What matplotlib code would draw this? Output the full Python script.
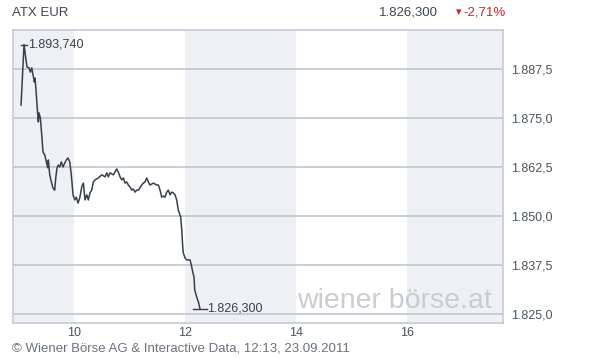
import matplotlib.pyplot as plt
from matplotlib.ticker import FuncFormatter

plt.rcParams['font.family'] = ['Liberation Sans', 'DejaVu Sans']

# Uhrzeit (Stunden, dezimal) und ATX-Stand
zeit = [9.045, 9.099, 9.130, 9.153, 9.189, 9.213, 9.238, 9.261, 9.285, 9.297,
        9.321, 9.346, 9.357, 9.369, 9.393, 9.418, 9.441, 9.472, 9.501, 9.526,
        9.537, 9.562, 9.591, 9.622, 9.652, 9.670, 9.694, 9.717, 9.742, 9.771,
        9.802, 9.832, 9.861, 9.892, 9.923, 9.951, 9.982, 10.013, 10.041, 10.072,
        10.103, 10.139, 10.168, 10.198, 10.229, 10.258, 10.288, 10.319, 10.348, 10.378,
        10.438, 10.499, 10.559, 10.589, 10.618, 10.649, 10.708, 10.769, 10.798, 10.829,
        10.859, 10.888, 10.919, 10.950, 10.978, 11.009, 11.040, 11.068, 11.099, 11.130,
        11.159, 11.220, 11.249, 11.279, 11.310, 11.339, 11.369, 11.429, 11.490, 11.519,
        11.550, 11.580, 11.609, 11.640, 11.670, 11.699, 11.730, 11.760, 11.789, 11.820,
        11.850, 11.879, 11.923, 11.941, 11.959, 11.969, 12.000, 12.031, 12.090, 12.121,
        12.139, 12.162, 12.175, 12.211, 12.240, 12.270]
kurs = [1878.3, 1893.74, 1890.3, 1888.0, 1887.8, 1886.7, 1887.8, 1886.0, 1884.2, 1885.2,
        1880.9, 1875.8, 1874.0, 1876.3, 1875.0, 1870.7, 1866.3, 1865.6, 1863.8, 1862.3,
        1864.3, 1860.5, 1858.7, 1857.1, 1856.6, 1859.7, 1862.3, 1863.0, 1862.5, 1863.8,
        1862.5, 1863.5, 1864.3, 1864.8, 1863.8, 1860.5, 1855.4, 1854.1, 1854.8, 1853.3,
        1854.6, 1857.4, 1858.4, 1854.1, 1855.4, 1854.1, 1855.9, 1856.6, 1858.7, 1859.2,
        1859.7, 1860.5, 1860.0, 1861.0, 1860.0, 1861.0, 1860.5, 1862.0, 1861.2, 1860.0,
        1859.2, 1859.7, 1858.4, 1858.7, 1857.9, 1857.4, 1856.6, 1856.9, 1856.1, 1856.6,
        1856.6, 1857.9, 1858.4, 1858.7, 1859.7, 1858.7, 1857.9, 1858.4, 1857.9, 1857.9,
        1856.6, 1854.8, 1855.1, 1854.8, 1856.1, 1856.6, 1855.4, 1856.1, 1855.9, 1855.4,
        1854.1, 1851.5, 1849.7, 1846.4, 1842.1, 1840.6, 1839.3, 1838.8, 1838.8, 1837.0,
        1835.7, 1834.4, 1831.1, 1829.3, 1828.1, 1826.3]

hoch = (9.099, 1893.74)
letzt = (12.270, 1826.3)
y_ticks = [1825.0, 1837.5, 1850.0, 1862.5, 1875.0, 1887.5]
x_ticks = [10, 12, 14, 16]
baender = [(8.9, 10), (12, 14), (16, 17.73)]


def de_zahl(v, dez):
    s = f"{v:,.{dez}f}"
    return s.replace(",", "X").replace(".", ",").replace("X", ".")


fig = plt.figure(figsize=(6.1, 3.59), dpi=100)
ax = fig.add_axes([0.0213, 0.1003, 0.8033, 0.8161])
ax.set_xlim(8.9, 17.73)
ax.set_ylim(1822.7, 1897.45)

for a, b in baender:
    ax.axvspan(a, b, color='#eef0f4', lw=0, zorder=0)
for y in y_ticks:
    ax.axhline(y, color='#bcc5cf', lw=1.2, zorder=1)

ax.text(15.78, 1828.4, 'wiener börse.at', fontsize=20.5, color='#c9cdd2',
        ha='center', va='center', zorder=1)

ax.plot(zeit, kurs, color='#36404c', lw=1.1, zorder=3)

# Markierungen für Hoch und letzten Kurs
ax.plot([hoch[0] - 0.06, hoch[0] + 0.06], [hoch[1], hoch[1]], color='#36404c', lw=1, zorder=3)
ax.text(hoch[0] + 0.08, hoch[1], de_zahl(hoch[1], 3), fontsize=9, color='#36404c',
        va='center', ha='left')
ax.plot([letzt[0] - 0.12, letzt[0] + 0.12], [letzt[1], letzt[1]], color='#36404c', lw=1, zorder=3)
ax.text(letzt[0] + 0.13, letzt[1], de_zahl(letzt[1], 3), fontsize=9, color='#36404c',
        va='center', ha='left')

ax.yaxis.tick_right()
ax.set_yticks(y_ticks)
ax.yaxis.set_major_formatter(FuncFormatter(lambda v, p: de_zahl(v, 1)))
ax.set_xticks(x_ticks)
ax.tick_params(length=0, labelsize=9, colors='#4a5560', pad=6)
ax.tick_params(axis='x', pad=3)
for s in ax.spines.values():
    s.set_color('#c3cbd5')
    s.set_linewidth(1.2)

fig.text(0.02, 0.965, 'ATX EUR', fontsize=9.5, color='#3c4652', va='center')
fig.text(0.718, 0.965, '1.826,300', fontsize=9.5, color='#3c4652', va='center', ha='right')
fig.text(0.748, 0.965, '▾', fontsize=8, color='#d42020', va='center', ha='left',
         family=['DejaVu Sans'])
fig.text(0.759, 0.965, '-2,71%', fontsize=9.5, color='#d42020', va='center', ha='left')
fig.text(0.02, 0.028, '© Wiener Börse AG & Interactive Data, 12:13, 23.09.2011',
         fontsize=9.5, color='#6a737d', va='center')

fig.savefig('out.png', dpi=100)
